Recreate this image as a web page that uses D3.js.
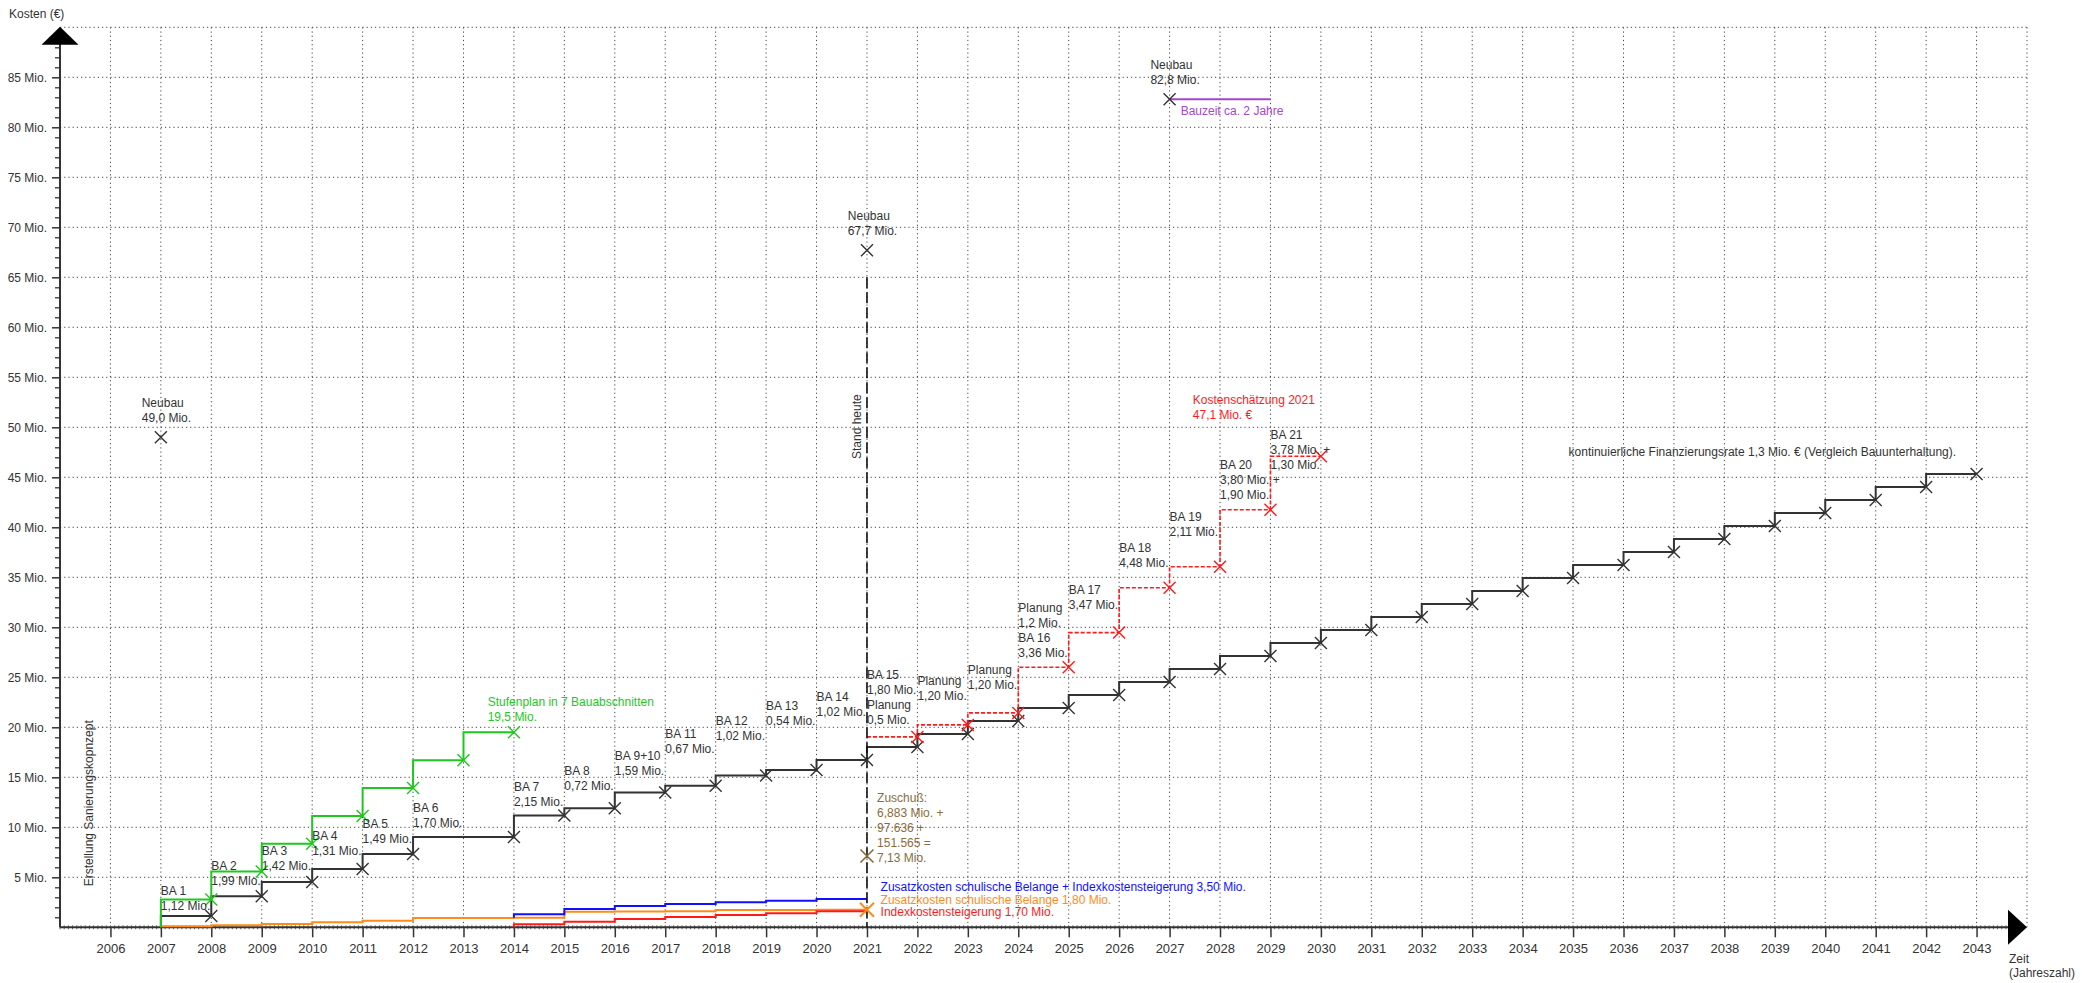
<!DOCTYPE html>
<html>
<head>
<meta charset="utf-8">
<script src="https://cdn.jsdelivr.net/npm/d3@7"></script>
<style>
  body { margin: 0; background: #fff; }
  svg { display: block; font-family: "Liberation Sans", Arial, sans-serif; }
  .lbl { font-size: 12px; }
</style>
</head>
<body>
<svg id="chart" width="2082" height="983"></svg>
<script>
// ---- data (Mio. €) ----
const tickYears = d3.range(2006, 2044);
const yTicks = d3.range(5, 90, 5);

// Sanierung in Bauabschnitten (cumulative), value valid from year to next year
const baYears  = [2007, 2008, 2009, 2010, 2011, 2012, 2013, 2014, 2015, 2016, 2017, 2018, 2019, 2020,
                  2021, 2022, 2023, 2024, 2025, 2026, 2027, 2028, 2029, 2030, 2031, 2032, 2033, 2034,
                  2035, 2036, 2037, 2038, 2039, 2040, 2041, 2042];
const baValues = [1.12, 3.11, 4.53, 5.84, 7.33, 9.03, 9.03, 11.18, 11.90, 13.49, 14.16, 15.18, 15.72, 16.74,
                  18.04, 19.34, 20.64, 21.94, 23.24, 24.54, 25.84, 27.14, 28.44, 29.74, 31.04, 32.34, 33.64, 34.94,
                  36.24, 37.54, 38.84, 40.14, 41.44, 42.74, 44.04, 45.34];

// Stufenplan in 7 Bauabschnitten
const stufenYears  = [2007, 2008, 2009, 2010, 2011, 2012, 2013];
const stufenValues = [2.79, 5.57, 8.36, 11.14, 13.93, 16.71, 19.5];

// Kostenschätzung 2021
const schaetzYears  = [2021, 2022, 2023, 2024, 2025, 2026, 2027, 2028, 2029];
const schaetzValues = [19.04, 20.24, 21.44, 26.00, 29.47, 33.95, 36.06, 41.76, 47.1];

// Zusatzkosten schulische Belange
const zusatzYears  = [2007, 2008, 2009, 2010, 2011, 2012, 2013, 2014, 2015, 2016, 2017, 2018, 2019, 2020];
const zusatzValues = [0.10, 0.20, 0.33, 0.50, 0.66, 0.93, 0.93, 0.96, 1.56, 1.58, 1.60, 1.72, 1.73, 1.75];

// Zusatzkosten + Indexkostensteigerung
const summeYears  = [2014, 2015, 2016, 2017, 2018, 2019, 2020];
const summeValues = [1.30, 1.83, 2.13, 2.33, 2.50, 2.66, 2.83];

// Indexkostensteigerung
const indexYears  = [2014, 2015, 2016, 2017, 2018, 2019, 2020];
const indexValues = [0.30, 0.56, 0.83, 1.03, 1.23, 1.40, 1.60];

const neubauYears  = [2007, 2021, 2027];
const neubauValues = [49.0, 67.7, 82.8];
const neubauLabels = ["49,0 Mio.", "67,7 Mio.", "82,8 Mio."];

const zuschussYear = 2021, zuschussValue = 7.13;
const standYear = 2021, standTop = 65;

const baLabels = [
  [2007, 3.28, ["BA 1", "1,12 Mio."]],
  [2008, 5.73, ["BA 2", "1,99 Mio."]],
  [2009, 7.26, ["BA 3", "1,42 Mio."]],
  [2010, 8.73, ["BA 4", "1,31 Mio."]],
  [2011, 9.93, ["BA 5", "1,49 Mio."]],
  [2012, 11.53, ["BA 6", "1,70 Mio."]],
  [2014, 13.6, ["BA 7", "2,15 Mio."]],
  [2015, 15.2, ["BA 8", "0,72 Mio."]],
  [2016, 16.7, ["BA 9+10", "1,59 Mio."]],
  [2017, 18.9, ["BA 11", "0,67 Mio."]],
  [2018, 20.2, ["BA 12", "1,02 Mio."]],
  [2019, 21.7, ["BA 13", "0,54 Mio."]],
  [2020, 22.6, ["BA 14", "1,02 Mio."]],
  [2021, 24.83, ["BA 15", "1,80 Mio.", "Planung", "0,5 Mio."]],
  [2022, 24.2, ["Planung", "1,20 Mio."]],
  [2023, 25.3, ["Planung", "1,20 Mio."]],
  [2024, 31.5, ["Planung", "1,2 Mio.", "BA 16", "3,36 Mio."]],
  [2025, 33.3, ["BA 17", "3,47 Mio."]],
  [2026, 37.5, ["BA 18", "4,48 Mio."]],
  [2027, 40.6, ["BA 19", "2,11 Mio."]],
  [2028, 45.8, ["BA 20", "3,80 Mio. +", "1,90 Mio."]],
  [2029, 48.8, ["BA 21", "3,78 Mio. +", "1,30 Mio."]]
];

// ---- layout ----
const svg = d3.select("#chart");
const x = d3.scaleLinear().domain([2005, 2044]).range([60, 2027]);
const y = d3.scaleLinear().domain([0, 90]).range([927.3, 27.3]);
const lineH = 15;

const colors = {
  ink: "#333", grid: "#444", green: "#1ec81e", red: "#ff1a1a", orange: "#ff8c1a",
  blue: "#1010ff", purple: "#a347c8", brown: "#8a6c3c"
};

// grid
const grid = svg.append("g").attr("stroke", colors.grid).attr("stroke-dasharray", "1.2,3").attr("stroke-width", 1);
grid.selectAll(".h").data(yTicks.concat([90])).join("line")
  .attr("x1", x(2005)).attr("x2", x(2044)).attr("y1", d => y(d)).attr("y2", d => y(d));
grid.selectAll(".v").data(tickYears.concat([2044])).join("line")
  .attr("x1", d => x(d)).attr("x2", d => x(d)).attr("y1", y(90)).attr("y2", y(0));

// y axis
const yAxis = svg.append("g").attr("transform", `translate(${x(2005)},0)`)
  .call(d3.axisLeft(y).tickValues(yTicks).tickSize(8).tickPadding(5).tickFormat(d => d + " Mio."));
yAxis.select(".domain").remove();
yAxis.selectAll("line").attr("stroke", colors.ink).attr("stroke-width", 1.5);
yAxis.selectAll("text").attr("font-size", 12).attr("fill", colors.ink)
  .attr("font-family", "Liberation Sans, Arial, sans-serif");
const yMinor = svg.append("g").attr("transform", `translate(${x(2005) + 1},0)`)
  .call(d3.axisLeft(y).tickValues(d3.range(1, 89).filter(d => d % 5)).tickSize(6).tickFormat(""));
yMinor.select(".domain").remove();
yMinor.selectAll("line").attr("stroke", colors.ink).attr("stroke-width", 1.3);

// x axis
const xAxis = svg.append("g").attr("transform", `translate(0,${y(0)})`)
  .call(d3.axisBottom(x).tickValues(tickYears).tickSize(10).tickPadding(6).tickFormat(d3.format("d")));
xAxis.select(".domain").remove();
xAxis.selectAll("line").attr("stroke", colors.ink).attr("stroke-width", 1.5);
xAxis.selectAll("text").attr("font-size", 13).attr("fill", colors.ink)
  .attr("font-family", "Liberation Sans, Arial, sans-serif");
const months = d3.range(2005, 2043.95, 1 / 12);
svg.append("g").selectAll("line").data(months).join("line")
  .attr("x1", d => x(d)).attr("x2", d => x(d)).attr("y1", y(0) - 2).attr("y2", y(0) + 2)
  .attr("stroke", "#666").attr("stroke-width", 1);

svg.append("line").attr("x1", x(2005)).attr("x2", x(2044) - 10).attr("y1", y(0)).attr("y2", y(0))
  .attr("stroke", colors.ink).attr("stroke-width", 2);
svg.append("line").attr("x1", x(2005)).attr("x2", x(2005)).attr("y1", y(90) + 10).attr("y2", y(0))
  .attr("stroke", colors.ink).attr("stroke-width", 2);
// arrow heads
svg.append("path").attr("fill", "#000")
  .attr("d", `M${x(2005)},${y(90) - 0.5}L${x(2005) - 18.5},${y(90) + 17.5}L${x(2005) + 18.5},${y(90) + 17.5}Z`);
svg.append("path").attr("fill", "#000")
  .attr("d", `M${x(2044)},${y(0)}L${x(2044) - 19},${y(0) - 17.5}L${x(2044) - 19},${y(0) + 17.5}Z`);

svg.append("text").attr("class", "lbl").attr("fill", colors.ink).attr("font-size", 11).attr("x", 9).attr("y", 18).text("Kosten (€)");
svg.append("text").attr("class", "lbl").attr("fill", colors.ink).attr("font-size", 11).attr("x", x(2044) - 18).attr("y", y(0) + 36).text("Zeit");
svg.append("text").attr("class", "lbl").attr("fill", colors.ink).attr("font-size", 11).attr("x", x(2044) - 18).attr("y", y(0) + 50).text("(Jahreszahl)");

// ---- series ----
const step = d3.line().curve(d3.curveStepAfter).x(d => x(d[0])).y(d => y(d[1]));
function stepData(years, values, start) {
  const pts = years.map((yr, i) => [yr, values[i]]);
  const last = pts[pts.length - 1];
  return [[years[0], start]].concat(pts, [[last[0] + 1, last[1]]]);
}
function cross(g, pts, color, r, w) {
  g.selectAll(null).data(pts).join("path")
    .attr("transform", d => `translate(${x(d[0])},${y(d[1])})`)
    .attr("d", `M${-r},${-r}L${r},${r}M${-r},${r}L${r},${-r}`)
    .attr("stroke", color).attr("stroke-width", w).attr("fill", "none");
}
function markers(years, values) {
  const pts = [];
  values.forEach((v, i) => {
    const next = values[i + 1];
    if (next === undefined || next !== v) pts.push([years[i] + 1, v]);
  });
  return pts;
}

const series = svg.append("g").attr("fill", "none");
series.append("path").attr("d", step(stepData(zusatzYears, zusatzValues, 0)))
  .attr("stroke", colors.orange).attr("stroke-width", 2);
series.append("path").attr("d", step(stepData(summeYears, summeValues, zusatzValues[7])))
  .attr("stroke", colors.blue).attr("stroke-width", 2);
series.append("path").attr("d", step(stepData(indexYears, indexValues, 0)))
  .attr("stroke", colors.red).attr("stroke-width", 2);
series.append("path").attr("d", step(stepData(baYears, baValues, 0)))
  .attr("stroke", colors.ink).attr("stroke-width", 2);
series.append("path").attr("d", step(stepData(stufenYears, stufenValues, 0)))
  .attr("stroke", colors.green).attr("stroke-width", 2);
series.append("path").attr("d", step(stepData(schaetzYears, schaetzValues, schaetzValues[0])))
  .attr("stroke", colors.red).attr("stroke-width", 1.6).attr("stroke-dasharray", "4,2");

// Stand heute
series.append("line").attr("x1", x(standYear)).attr("x2", x(standYear)).attr("y1", y(standTop)).attr("y2", y(0))
  .attr("stroke", "#111").attr("stroke-width", 1.6).attr("stroke-dasharray", "11,4");
// Bauzeit Neubau
series.append("line").attr("x1", x(neubauYears[2])).attr("x2", x(neubauYears[2] + 2))
  .attr("y1", y(neubauValues[2])).attr("y2", y(neubauValues[2]))
  .attr("stroke", colors.purple).attr("stroke-width", 2);

cross(series, markers(baYears, baValues), colors.ink, 6, 1.4);
cross(series, markers(stufenYears, stufenValues), colors.green, 6, 1.4);
cross(series, markers(schaetzYears, schaetzValues), colors.red, 6, 1.4);
cross(series, neubauYears.map((yr, i) => [yr, neubauValues[i]]), colors.ink, 6, 1.4);
cross(series, [[zuschussYear, zuschussValue]], colors.brown, 6.5, 1.6);
cross(series, [[zusatzYears[zusatzYears.length - 1] + 1, zusatzValues[zusatzValues.length - 1]]], colors.orange, 7, 2);

// ---- text ----
function label(yr, val, lines, color, size) {
  const t = svg.append("text").attr("class", "lbl").attr("font-size", size || 12)
    .attr("fill", color || colors.ink).attr("x", x(yr)).attr("y", y(val));
  t.selectAll("tspan").data(lines).join("tspan")
    .attr("x", x(yr)).attr("dy", (d, i) => i ? lineH : 0).text(d => d);
}
baLabels.forEach(d => label(d[0], d[1], d[2]));
neubauYears.forEach((yr, i) => label(yr - 0.38, neubauValues[i] + 3, ["Neubau", neubauLabels[i]]));
label(2027.22, 81.2, ["Bauzeit ca. 2 Jahre"], colors.purple);
label(2013.48, 22.1, ["Stufenplan in 7 Bauabschnitten", "19,5 Mio."], colors.green);
label(2027.46, 52.3, ["Kostenschätzung 2021", "47,1 Mio. €"], colors.red);
label(2021.2, 12.53, ["Zuschuß:", "6,883 Mio. +", "97.636 +", "151.565 =", "7,13 Mio."], colors.brown);
label(2021.27, 3.6, ["Zusatzkosten schulische Belange + Indexkostensteigerung 3,50 Mio."], colors.blue);
label(2021.27, 2.33, ["Zusatzkosten schulische Belange 1,80 Mio."], colors.orange);
label(2021.27, 1.1, ["Indexkostensteigerung 1,70 Mio."], colors.red);
label(2034.91, 47.16, ["kontinuierliche Finanzierungsrate 1,3 Mio. € (Vergleich Bauunterhaltung)."]);

svg.append("text").attr("class", "lbl").attr("fill", colors.ink).attr("text-anchor", "middle")
  .attr("transform", `translate(${x(standYear) - 6},${y(50.06)}) rotate(-90)`).text("Stand heute");
svg.append("text").attr("class", "lbl").attr("fill", colors.ink).attr("text-anchor", "middle")
  .attr("transform", `translate(${x(2005.66)},${y(12.4)}) rotate(-90)`).text("Erstellung Sanierungskopnzept");
</script>
</body>
</html>
